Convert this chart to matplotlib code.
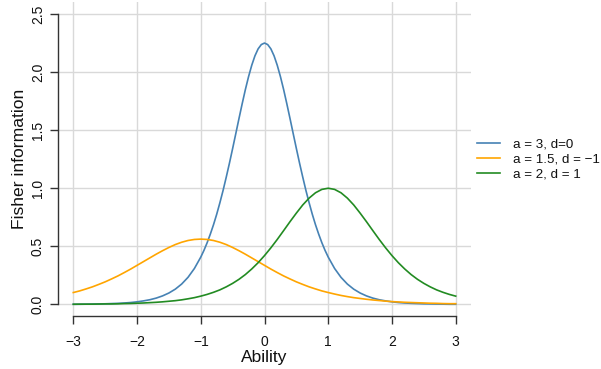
import numpy as np
import matplotlib
matplotlib.use("Agg")
import matplotlib.pyplot as plt

plt.rcParams['font.family'] = ['Liberation Sans', 'DejaVu Sans']

# ability grid (coarse) for the two flatter curves
ability = np.round(np.arange(-30, 31) / 10, 1)
info_a15_dm1 = [0.102,0.116,0.133,0.151,0.172,0.194,0.219,0.245,0.274,0.304,0.336,0.368,0.4,0.432,0.462,0.49,0.515,0.535,0.55,0.559,0.562,0.559,0.55,0.535,0.515,0.49,0.462,0.432,0.4,0.368,0.336,0.304,0.274,0.245,0.219,0.194,0.172,0.151,0.133,0.116,0.102,0.089,0.077,0.067,0.058,0.051,0.044,0.038,0.033,0.028,0.024,0.021,0.018,0.016,0.014,0.012,0.01,0.009,0.007,0.006,0.006]
info_a2_d1 = [0.001,0.002,0.002,0.002,0.003,0.004,0.004,0.005,0.007,0.008,0.01,0.012,0.015,0.018,0.022,0.027,0.032,0.039,0.048,0.058,0.071,0.086,0.104,0.125,0.151,0.181,0.216,0.257,0.305,0.359,0.42,0.487,0.559,0.635,0.712,0.786,0.856,0.915,0.961,0.99,1,0.99,0.961,0.915,0.856,0.786,0.712,0.635,0.559,0.487,0.42,0.359,0.305,0.257,0.216,0.181,0.151,0.125,0.104,0.086,0.071]

# finer readings for the sharp a = 3 curve
ability_a3 = [-3.0,-2.9,-2.8,-2.7,-2.6,-2.5,-2.4,-2.3,-2.2,-2.1,-2.0,-1.9,-1.8,-1.7,-1.6,-1.5,-1.4,-1.3,-1.2,-1.1,-1.0,
              -0.95,-0.9,-0.85,-0.8,-0.75,-0.7,-0.65,-0.6,-0.55,-0.5,-0.45,-0.4,-0.35,-0.3,-0.25,-0.2,-0.15,-0.1,-0.05,0.0,
              0.05,0.1,0.15,0.2,0.25,0.3,0.35,0.4,0.45,0.5,0.55,0.6,0.65,0.7,0.75,0.8,0.85,0.9,0.95,
              1.0,1.1,1.2,1.3,1.4,1.5,1.6,1.7,1.8,1.9,2.0,2.1,2.2,2.3,2.4,2.5,2.6,2.7,2.8,2.9,3.0]
info_a3_d0 = [0.001,0.001,0.002,0.003,0.004,0.005,0.007,0.009,0.012,0.016,0.022,0.03,0.04,0.054,0.073,0.098,0.131,0.175,0.233,0.309,0.407,
              0.465,0.531,0.605,0.686,0.776,0.875,0.981,1.096,1.216,1.342,1.471,1.601,1.728,1.85,1.961,2.059,2.140,2.2,2.237,2.25,
              2.237,2.2,2.140,2.059,1.961,1.85,1.728,1.601,1.471,1.342,1.216,1.096,0.981,0.875,0.776,0.686,0.605,0.531,0.465,
              0.407,0.309,0.233,0.175,0.131,0.098,0.073,0.054,0.04,0.03,0.022,0.016,0.012,0.009,0.007,0.005,0.004,0.003,0.002,0.001,0.001]

series = [
    (ability_a3, info_a3_d0, "a = 3, d=0", "#4682B4"),
    (ability, info_a15_dm1, "a = 1.5, d = \u22121", "#FFA500"),
    (ability, info_a2_d1, "a = 2, d = 1", "#228B22"),
]
xticks = [-3, -2, -1, 0, 1, 2, 3]
xtick_labels = ["\u22123", "\u22122", "\u22121", "0", "1", "2", "3"]
yticks = [0.0, 0.5, 1.0, 1.5, 2.0, 2.5]
ytick_labels = ["0.0", "0.5", "1.0", "1.5", "2.0", "2.5"]

W, H = 601, 369
fig = plt.figure(figsize=(W / 100, H / 100), dpi=100)
l, r, t, b = 58, 471, 2.4, 316
ax = fig.add_axes([l / W, 1 - b / H, (r - l) / W, (b - t) / H])
ax.set_xlim(-3.24, 3.24)
ax.set_ylim(-0.1, 2.6)

for xv in xticks:
    ax.axvline(xv, color="#d9d9d9", lw=1, zorder=0)
for yv in yticks:
    ax.axhline(yv, color="#d9d9d9", lw=1, zorder=0)

for xs, vals, lab, col in series:
    ax.plot(xs, vals, color=col, lw=1.2, label=lab)

for s in ["top", "right"]:
    ax.spines[s].set_visible(False)
ax.spines["left"].set_bounds(0, 2.5)
ax.spines["bottom"].set_bounds(-3, 3)
for s in ["left", "bottom"]:
    ax.spines[s].set_color("#333333")
    ax.spines[s].set_linewidth(1.0)

ax.set_xticks(xticks)
ax.set_xticklabels(xtick_labels)
ax.set_yticks(yticks)
ax.set_yticklabels(ytick_labels, rotation=90, va="center")
ax.tick_params(axis="both", direction="out", length=5.5, width=1.0, color="#333333",
               labelsize=10, labelcolor="#111111")
ax.tick_params(axis="x", pad=8.5)
ax.tick_params(axis="y", pad=4)

ax.set_xlabel("Ability", fontsize=12.5, labelpad=0.5, color="#111111")
ax.set_ylabel("Fisher information", fontsize=12.6, labelpad=2.5, color="#111111")

leg = ax.legend(loc="center left", bbox_to_anchor=(1.0, 0.5), frameon=False,
                fontsize=9.6, handlelength=1.75, handletextpad=0.95, labelspacing=0.2,
                borderaxespad=0.05)
for txt in leg.get_texts():
    txt.set_color("#111111")

fig.savefig("out.png", dpi=100)
